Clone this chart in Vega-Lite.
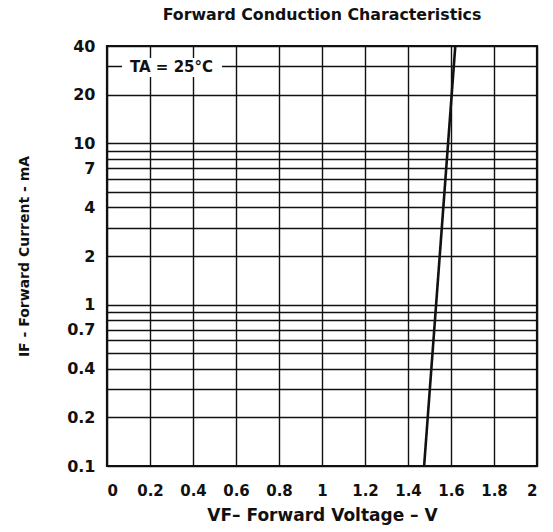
{
  "$schema": "https://vega.github.io/schema/vega-lite/v6.json",
  "width": 430,
  "height": 420,
  "autosize": "none",
  "padding": {"left": 107, "top": 46, "right": 16, "bottom": 66},
  "background": "white",
  "config": {
    "view": {"stroke": "#111", "strokeWidth": 2.2},
    "font": "DejaVu Sans",
    "axis": {
      "labelFont": "DejaVu Sans",
      "titleFont": "DejaVu Sans",
      "labelFontWeight": "bold",
      "titleFontWeight": "bold",
      "labelColor": "#111",
      "titleColor": "#111",
      "gridColor": "#111",
      "gridOpacity": 1,
      "gridWidth": 1.4,
      "domain": false,
      "ticks": false
    }
  },
  "title": {
    "text": "Forward Conduction Characteristics",
    "fontSize": 15.8,
    "fontWeight": "bold",
    "font": "DejaVu Sans",
    "color": "#111",
    "offset": 14
  },
  "datasets": {
    "curve": [
      {"voltage": 1.475, "current": 0.1},
      {"voltage": 1.62, "current": 40}
    ],
    "note": [
      {"x1": 0.07, "x2": 0.535, "y1": 25.7, "y2": 33.7, "xm": 0.3, "ym": 29.6, "label": "TA = 25°C"}
    ]
  },
  "layer": [
    {
      "data": {"name": "curve"},
      "mark": {"type": "line", "color": "#111", "strokeWidth": 2.6, "clip": true},
      "encoding": {
        "x": {
          "field": "voltage",
          "type": "quantitative",
          "scale": {"domain": [0, 2], "nice": false, "zero": false},
          "axis": {
            "values": [0, 0.2, 0.4, 0.6, 0.8, 1, 1.2, 1.4, 1.6, 1.8, 2],
            "format": "~g",
            "labelFontSize": 15,
            "labelPadding": 17,
            "title": "VF– Forward Voltage – V",
            "titleFontSize": 17,
            "titlePadding": 9
          }
        },
        "y": {
          "field": "current",
          "type": "quantitative",
          "scale": {"type": "log", "domain": [0.1, 40], "nice": false},
          "axis": {
            "values": [0.1, 0.2, 0.3, 0.4, 0.5, 0.6, 0.7, 0.8, 0.9, 1, 2, 3, 4, 5, 6, 7, 8, 9, 10, 20, 30, 40],
            "format": "~g",
            "labelExpr": "indexof([0.1, 0.2, 0.4, 0.7, 1, 2, 4, 7, 10, 20, 40], datum.value) >= 0 ? datum.label : ''",
            "labelFontSize": 16,
            "labelPadding": 12,
            "title": "IF - Forward Current - mA",
            "titleFontSize": 14,
            "titlePadding": 35
          }
        }
      }
    },
    {
      "data": {"name": "note"},
      "mark": {"type": "rect", "fill": "white", "stroke": null},
      "encoding": {
        "x": {"field": "x1", "type": "quantitative"},
        "x2": {"field": "x2"},
        "y": {"field": "y1", "type": "quantitative"},
        "y2": {"field": "y2"}
      }
    },
    {
      "data": {"name": "note"},
      "mark": {"type": "text", "fontSize": 15, "fontWeight": "bold", "font": "DejaVu Sans", "color": "#111", "align": "center", "baseline": "middle"},
      "encoding": {
        "x": {"field": "xm", "type": "quantitative"},
        "y": {"field": "ym", "type": "quantitative"},
        "text": {"field": "label"}
      }
    }
  ]
}
